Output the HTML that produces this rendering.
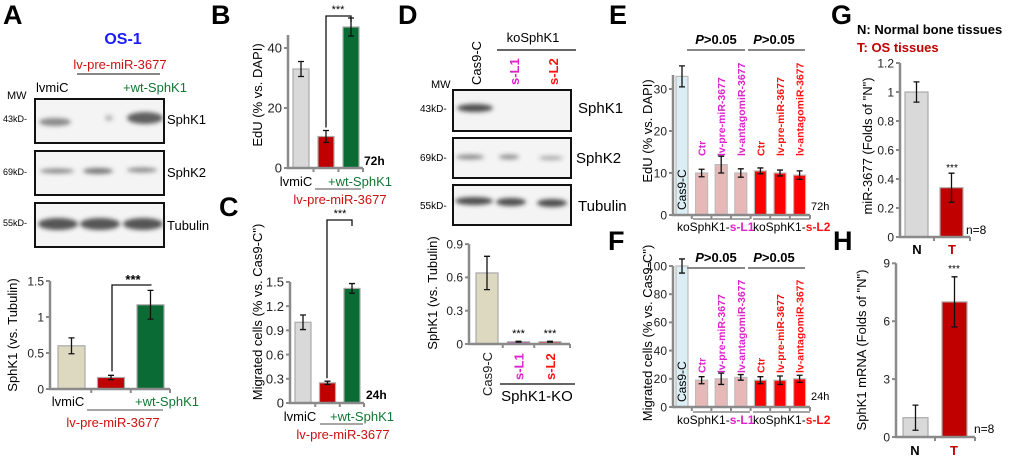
<!DOCTYPE html>
<html><head><meta charset="utf-8"><style>
html,body{margin:0;padding:0;background:#fff;width:1020px;height:458px;overflow:hidden}
svg{font-family:"Liberation Sans",Arial,sans-serif}
</style></head><body>
<svg id="fig" width="1020" height="458" viewBox="0 0 1020 458" xmlns="http://www.w3.org/2000/svg">
<defs>
<filter id="blur" x="-20%" y="-50%" width="140%" height="200%"><feGaussianBlur stdDeviation="2.2"/></filter>
</defs>
<g font-weight="bold" font-size="27" fill="#000">
<text x="3" y="24">A</text><text x="211" y="24">B</text><text x="219" y="216">C</text>
<text x="398" y="24">D</text><text x="609" y="24">E</text><text x="608" y="250">F</text>
<text x="831" y="24">G</text><text x="833" y="250">H</text>
</g>
<g font-size="12">
<text x="123" y="44" text-anchor="middle" fill="#1a1aff" font-weight="bold" font-size="16">OS-1</text>
<text x="120" y="69" text-anchor="middle" fill="#cc1111" font-size="13">lv-pre-miR-3677</text>
<line x1="77" y1="74" x2="160" y2="74" stroke="#888" stroke-width="2"/>
<text x="36" y="92" font-size="13">lvmiC</text>
<text x="123" y="92" fill="#117733" font-size="13">+wt-SphK1</text>
<text x="7" y="99" font-size="11">MW</text>
<rect x="35" y="99" width="129" height="44" fill="#f4f4f4" stroke="#111" stroke-width="2"/>
<rect x="35" y="151" width="129" height="44" fill="#f4f4f4" stroke="#111" stroke-width="2"/>
<rect x="35" y="203" width="129" height="44" fill="#f4f4f4" stroke="#111" stroke-width="2"/>
<g filter="url(#blur)" fill="#444">
<ellipse cx="55" cy="122" rx="16" ry="4" opacity="0.6"/><ellipse cx="109" cy="118" rx="4" ry="3" opacity="0.35"/><ellipse cx="145" cy="118" rx="18" ry="6" opacity="0.85"/>
<ellipse cx="57" cy="171" rx="17" ry="2.5" opacity="0.6"/><ellipse cx="98" cy="171" rx="15" ry="3" opacity="0.7"/><ellipse cx="142" cy="170" rx="15" ry="2.5" opacity="0.6"/>
<ellipse cx="58" cy="224" rx="20" ry="6" opacity="0.9"/><ellipse cx="100" cy="224" rx="20" ry="6" opacity="0.9"/><ellipse cx="143" cy="224" rx="20" ry="6" opacity="0.9"/>
</g>
<text x="3" y="122" font-size="9">43kD-</text><text x="3" y="175" font-size="9">69kD-</text><text x="3" y="226" font-size="9">55kD-</text>
<text x="167" y="124" font-size="13">SphK1</text><text x="167" y="177" font-size="13">SphK2</text><text x="167" y="230" font-size="13">Tubulin</text>
</g>
<g>
<text x="533" y="42" text-anchor="middle" font-size="13">koSphK1</text>
<line x1="497" y1="50" x2="576" y2="50" stroke="#333" stroke-width="1.5"/>
<text transform="translate(481,85) rotate(-90)" font-size="13">Cas9-C</text>
<text transform="translate(519,85) rotate(-90)" font-size="13" fill="#dd22cc" font-weight="bold">s-L1</text>
<text transform="translate(558,85) rotate(-90)" font-size="13" fill="#ff1111" font-weight="bold">s-L2</text>
<text x="431" y="88" font-size="11">MW</text>
<rect x="453" y="90" width="118" height="41" fill="#f4f4f4" stroke="#111" stroke-width="2"/>
<rect x="453" y="138" width="118" height="40" fill="#f4f4f4" stroke="#111" stroke-width="2"/>
<rect x="453" y="185" width="118" height="40" fill="#f4f4f4" stroke="#111" stroke-width="2"/>
<g filter="url(#blur)" fill="#333">
<ellipse cx="475" cy="108" rx="18" ry="4" opacity="0.85"/>
<ellipse cx="470" cy="157" rx="14" ry="2.5" opacity="0.55"/><ellipse cx="509" cy="157" rx="10" ry="2.5" opacity="0.5"/><ellipse cx="551" cy="158" rx="12" ry="2" opacity="0.4"/>
<ellipse cx="474" cy="201" rx="19" ry="4" opacity="0.85"/><ellipse cx="511" cy="202" rx="15" ry="4" opacity="0.85"/><ellipse cx="552" cy="203" rx="15" ry="4" opacity="0.85"/>
</g>
<text x="420" y="112" font-size="10">43kD-</text><text x="420" y="161" font-size="10">69kD-</text><text x="420" y="209" font-size="10">55kD-</text>
<text x="578" y="113" font-size="15">SphK1</text><text x="576" y="163" font-size="15">SphK2</text><text x="578" y="211" font-size="15">Tubulin</text>
</g>
<text x="857" y="34" font-size="13" font-weight="bold">N: Normal bone tissues</text>
<text x="857" y="52" font-size="13" font-weight="bold" fill="#c00000">T: OS tissues</text>
<g id="charts"></g>
</svg>
<script>
const aCats=["lvmiC","lv-pre-miR-3677","+wt-SphK1"];
const aVals=[0.6,0.16,1.17];
const aErrs=[0.11,0.03,0.2];
const aTicks=[0,0.5,1,1.5];
const aTickLabels=["0","0.5","1","1.5"];
const bVals=[33,10.5,47];
const bErrs=[2.5,2,3];
const bTicks=[0,20,40];
const bTickLabels=["0","20","40"];
const cVals=[1.0,0.25,1.42];
const cErrs=[0.09,0.02,0.06];
const cTicks=[0,0.3,0.6,0.9,1.2,1.5];
const cTickLabels=["0","0.3","0.6","0.9","1.2","1.5"];
const dCats=["Cas9-C","s-L1","s-L2"];
const dVals=[0.64,0.02,0.02];
const dErrs=[0.15,0.005,0.005];
const dTicks=[0,0.3,0.6,0.9];
const dTickLabels=["0","0.3","0.6","0.9"];
const eCats=["Cas9-C","Ctr","lv-pre-miR-3677","lv-antagomiR-3677","Ctr","lv-pre-miR-3677","lv-antagomiR-3677"];
const eVals=[33,10,12,10,10.5,10,9.5];
const eErrs=[2.5,0.9,2,1,0.7,0.7,1];
const eTicks=[0,10,20,30];
const eTickLabels=["0","10","20","30"];
const fVals=[100,19,20,21,19,19,20];
const fErrs=[5,2.5,4,2,2.5,3,2.5];
const fTicks=[0,20,40,60,80,100];
const fTickLabels=["0","20","40","60","80","100"];
const gCats=["N","T"];
const gVals=[1.0,0.34];
const gErrs=[0.07,0.1];
const gTicks=[0,0.2,0.4,0.6,0.8,1,1.2];
const gTickLabels=["0","0.2","0.4","0.6","0.8","1","1.2"];
const hVals=[1.0,7.0];
const hErrs=[0.65,1.3];
const hTicks=[0,3,6,9];
const hTickLabels=["0","3","6","9"];

const NS="http://www.w3.org/2000/svg";
const root=document.getElementById('charts');
function mk(tag,attrs,parent,txt){const e=document.createElementNS(NS,tag);for(const k in attrs)e.setAttribute(k,attrs[k]);if(txt!==undefined)e.textContent=txt;(parent||root).appendChild(e);return e;}

function chart(name,o){
  const g=mk('g',{});
  
  
  const y=v=>o.zero-v*o.scale;
  const bx=i=>o.start+i*o.pitch;
  o.vals.forEach((v,i)=>{
    const r=mk('rect',{x:bx(i),y:y(v),width:o.w,height:Math.max(o.zero-y(v),0.5),fill:o.colors[i],stroke:o.stroke||'#aaa','stroke-width':1.2},g);
    
    
    const cx=bx(i)+o.w/2,t=y(v+o.errs[i]),b=y(v-o.errs[i]);
    const e=mk('path',{d:`M${cx},${t}V${b}M${cx-3},${t}H${cx+3}M${cx-3},${b}H${cx+3}`,stroke:'#111','stroke-width':1.3,fill:'none'},g);
    
    
  });
  const top=y(o.ticks[o.ticks.length-1])-(o.extra||0);
  const ax=mk('path',{d:`M${o.ax},${top}V${o.zero}H${o.axEnd}`,stroke:'#8a8a8a','stroke-width':2.5,fill:'none'},g);
  
  
  o.ticks.forEach((t,i)=>{
    mk('line',{x1:o.ax-4,x2:o.ax,y1:y(t),y2:y(t),stroke:'#8a8a8a','stroke-width':2},g);
    const tl=mk('text',{x:o.ax-6,y:y(t)+o.fs*0.36,'text-anchor':'end','font-size':o.fs,fill:'#222'},g,o.tickLabels[i]);
    
    
  });
  for(let i=1;i<o.vals.length;i++){const xx=bx(i)-(o.pitch-o.w)/2;mk('line',{x1:xx,x2:xx,y1:o.zero,y2:o.zero+4,stroke:'#8a8a8a','stroke-width':2},g);}
  mk('line',{x1:o.axEnd,x2:o.axEnd,y1:o.zero,y2:o.zero+4,stroke:'#8a8a8a','stroke-width':2},g);
  const yt=mk('text',{transform:`translate(${o.titleX},${o.titleY}) rotate(-90)`,'text-anchor':'middle','font-size':o.tfs},g,o.title);
  
  
  return {g,y,bx};
}
function T(x,yy,s,attrs,parent){return mk('text',Object.assign({x:x,y:yy},attrs||{}),parent,s);}

const A=chart('chart-a',{vals:aVals,errs:aErrs,colors:['#ddd8c0','#c00000','#0b6b34'],zero:389,scale:72,start:58,pitch:39.5,w:27,ax:50,axEnd:170,ticks:aTicks,tickLabels:aTickLabels,fs:12,title:'SphK1 (vs. Tubulin)',titleX:17,titleY:335,tfs:13});
T(68,406,aCats[0],{'font-size':13,'text-anchor':'middle'},A.g);
T(167,406,aCats[2],{'font-size':13,'text-anchor':'middle',fill:'#117733'},A.g);
mk('line',{x1:87,x2:163,y1:410,y2:410,stroke:'#888','stroke-width':1.5},A.g);
T(113,427,aCats[1],{'font-size':13,'text-anchor':'middle',fill:'#cc1111'},A.g);
mk('path',{d:`M112,${A.y(aVals[1]+aErrs[1])-4}V285H151V${A.y(aVals[2]+aErrs[2])-5}`,stroke:'#111','stroke-width':1.3,fill:'none'},A.g);
T(133,284,'***',{'font-size':13,'text-anchor':'middle','font-weight':'bold'},A.g);

const B=chart('chart-b',{vals:bVals,errs:bErrs,colors:['#d9d9d9','#c00000','#0b6b34'],zero:168,scale:3,start:293,pitch:25,w:16,ax:288,axEnd:363,ticks:bTicks,tickLabels:bTickLabels,fs:13,extra:13,title:'EdU (% vs. DAPI)',titleX:262,titleY:95,tfs:13});
T(364,165,'72h',{'font-size':12,'font-weight':'bold'},B.g);
T(296,186,'lvmiC',{'font-size':13,'text-anchor':'middle'},B.g);
T(360,186,'+wt-SphK1',{'font-size':13,'text-anchor':'middle',fill:'#117733'},B.g);
mk('line',{x1:315,x2:361,y1:189,y2:189,stroke:'#888','stroke-width':1.5},B.g);
T(340,204,'lv-pre-miR-3677',{'font-size':13,'text-anchor':'middle',fill:'#cc1111'},B.g);
mk('path',{d:`M326,${B.y(bVals[1]+bErrs[1])-3}V16H351V22`,stroke:'#111','stroke-width':1.3,fill:'none'},B.g);
T(338,13,'***',{'font-size':11,'text-anchor':'middle'},B.g);

const C=chart('chart-c',{vals:cVals,errs:cErrs,colors:['#d9d9d9','#c00000','#0b6b34'],zero:403,scale:80.7,start:295,pitch:24.5,w:16,ax:290,axEnd:364,ticks:cTicks,tickLabels:cTickLabels,fs:13,title:'Migrated cells (% vs. Cas9-C")',titleX:262,titleY:312,tfs:13});
T(366,399,'24h',{'font-size':12,'font-weight':'bold'},C.g);
T(300,421,'lvmiC',{'font-size':13,'text-anchor':'middle'},C.g);
T(362,421,'+wt-SphK1',{'font-size':13,'text-anchor':'middle',fill:'#117733'},C.g);
mk('line',{x1:320,x2:363,y1:424,y2:424,stroke:'#888','stroke-width':1.5},C.g);
T(343,439,'lv-pre-miR-3677',{'font-size':13,'text-anchor':'middle',fill:'#cc1111'},C.g);
mk('path',{d:`M327,${C.y(cVals[1]+cErrs[1])-3}V220H352V226`,stroke:'#111','stroke-width':1.3,fill:'none'},C.g);
T(340,217,'***',{'font-size':11,'text-anchor':'middle'},C.g);

const D=chart('chart-d',{vals:dVals,errs:dErrs,colors:['#ddd8c0','#dd22cc','#ff1111'],zero:344,scale:111,start:476,pitch:31.5,w:22,ax:469,axEnd:570,ticks:dTicks,tickLabels:dTickLabels,fs:12,title:'SphK1 (vs. Tubulin)',titleX:437,titleY:293,tfs:13});
const dColors=['#222','#dd22cc','#ff1111'];
dCats.forEach((c,i)=>{const lx=D.bx(i)+16, ly=i?380:396;
 T(lx,ly,c,{'font-size':13,fill:dColors[i],'font-weight':i?'bold':'normal',transform:`rotate(-90 ${lx} ${ly})`},D.g);
 if(i)T(D.bx(i)+11,D.y(dVals[i])-5,'***',{'font-size':11,'text-anchor':'middle'},D.g);});
mk('line',{x1:500,x2:575,y1:384,y2:384,stroke:'#333','stroke-width':1.5},D.g);
T(537,401,'SphK1-KO',{'font-size':15,'text-anchor':'middle'},D.g);

const efColors=['#dbeef4','#e6b9b8','#e6b9b8','#e6b9b8','#ff0000','#ff0000','#ff0000'];
function efExtras(C0,labBottom,lblBottom,hLabel,hY,pY,botY){
  T(C0.bx(0)+10,labBottom,eCats[0],{'font-size':12,transform:`rotate(-90 ${C0.bx(0)+10} ${labBottom})`},C0.g);
  for(let i=1;i<7;i++){
    const x=C0.bx(i)+10, yb=lblBottom;
    T(x,yb,eCats[i],{'font-size':10.5,'font-weight':'bold',fill:i<4?'#dd22cc':'#ff1111',transform:`rotate(-90 ${x} ${yb})`},C0.g);
  }
  T(811,hY,hLabel,{'font-size':11},C0.g);
  mk('line',{x1:693,x2:750,y1:botY-8,y2:botY-8,stroke:'#888','stroke-width':1.5},C0.g);
  mk('line',{x1:753,x2:810,y1:botY-8,y2:botY-8,stroke:'#888','stroke-width':1.5},C0.g);
  const t1=T(677,botY+4,'',{'font-size':12},C0.g);
  mk('tspan',{},t1,'koSphK1-');mk('tspan',{fill:'#dd22cc','font-weight':'bold'},t1,'s-L1');
  const t2=T(753,botY+4,'',{'font-size':12},C0.g);
  mk('tspan',{},t2,'koSphK1-');mk('tspan',{fill:'#ff1111','font-weight':'bold'},t2,'s-L2');
  [[716,687,745],[774,748,805]].forEach(p=>{
    const t=T(p[0],pY,'',{'font-size':13,'font-weight':'bold','text-anchor':'middle'},C0.g);
    mk('tspan',{'font-style':'italic'},t,'P');mk('tspan',{},t,'>0.05');
    mk('line',{x1:p[1],x2:p[2],y1:pY+6,y2:pY+6,stroke:'#888','stroke-width':2},C0.g);
  });
}
const E=chart('chart-e',{vals:eVals,errs:eErrs,colors:efColors,stroke:'#bbb',zero:215,scale:4.2,start:676,pitch:19.6,w:12,ax:673,axEnd:810,ticks:eTicks,tickLabels:eTickLabels,fs:12,extra:14,title:'EdU (% vs. DAPI)',titleX:652,titleY:131,tfs:13});
efExtras(E,210,156,'72h',210,44,227);
const F=chart('chart-f',{vals:fVals,errs:fErrs,colors:efColors,stroke:'#bbb',zero:407,scale:1.41,start:676,pitch:19.6,w:12,ax:673,axEnd:810,ticks:fTicks,tickLabels:fTickLabels,fs:12,title:'Migrated cells (% vs. Cas9-C")',titleX:652,titleY:333,tfs:13});
efExtras(F,402,373,'24h',400,262,420);

const G=chart('chart-g',{vals:gVals,errs:gErrs,colors:['#d9d9d9','#c00000'],zero:237,scale:145,start:905,pitch:35,w:23,ax:900,axEnd:970,ticks:gTicks,tickLabels:gTickLabels,fs:12,title:'miR-3677 (Folds of "N")',titleX:872,titleY:146,tfs:13});
T(917,254,gCats[0],{'font-size':13,'font-weight':'bold','text-anchor':'middle'},G.g);
T(952,254,gCats[1],{'font-size':13,'font-weight':'bold','text-anchor':'middle',fill:'#c00000'},G.g);
T(966,234,'n=8',{'font-size':12},G.g);
T(952,G.y(gVals[1]+gErrs[1])-2,'***',{'font-size':10,'text-anchor':'middle'},G.g);

const H=chart('chart-h',{vals:hVals,errs:hErrs,colors:['#d9d9d9','#c00000'],zero:437,scale:19.3,start:903,pitch:39,w:25,ax:896,axEnd:975,ticks:hTicks,tickLabels:hTickLabels,fs:12,title:'SphK1 mRNA (Folds of "N")',titleX:866,titleY:350,tfs:13});
T(915,455,gCats[0],{'font-size':13,'font-weight':'bold','text-anchor':'middle'},H.g);
T(954,455,gCats[1],{'font-size':13,'font-weight':'bold','text-anchor':'middle',fill:'#c00000'},H.g);
T(974,433,'n=8',{'font-size':12},H.g);
T(954,H.y(hVals[1]+hErrs[1])-5,'***',{'font-size':10,'text-anchor':'middle'},H.g);
</script>
</body></html>
